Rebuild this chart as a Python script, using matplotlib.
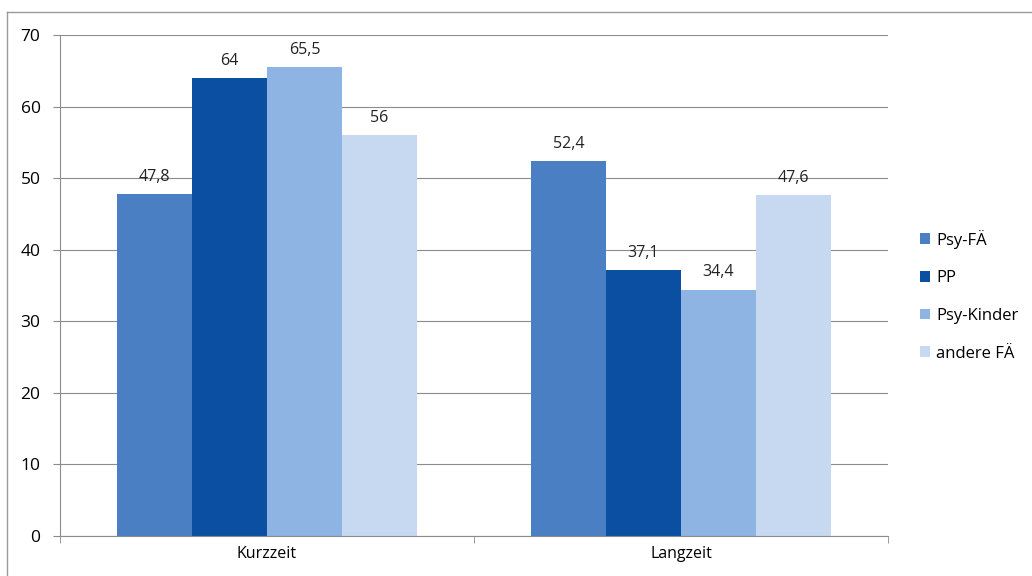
import matplotlib.pyplot as plt
import numpy as np
from matplotlib.lines import Line2D

plt.rcParams['font.family'] = ['Open Sans', 'DejaVu Sans']

# Data
categories = ["Kurzzeit", "Langzeit"]
series = ["Psy-FÄ", "PP", "Psy-Kinder", "andere FÄ"]
values = {
    "Psy-FÄ": [47.8, 52.4],
    "PP": [64, 37.1],
    "Psy-Kinder": [65.5, 34.4],
    "andere FÄ": [56, 47.6],
}
colors = ["#4a7fc4", "#0b4fa2", "#8db4e2", "#c6d9f1"]

fig = plt.figure(figsize=(10.32, 5.76), dpi=100)
ax = fig.add_axes([60 / 1032, 40 / 576, 828 / 1032, 501 / 576])

x = np.arange(len(categories))
width = 0.181
offsets = (np.arange(len(series)) - 1.5) * width

for name, off, col in zip(series, offsets, colors):
    bars = ax.bar(x + off, values[name], width, color=col, label=name, zorder=2)
    for bar, v in zip(bars, values[name]):
        label = f"{v:g}".replace(".", ",")
        ax.text(bar.get_x() + bar.get_width() / 2, v + 1.3, label,
                ha='center', va='bottom', fontsize=11.5, color='#222222', zorder=3)

ax.set_xlim(-0.5, 1.5)
ax.set_ylim(0, 70)
ax.set_yticks(range(0, 71, 10))
ax.yaxis.grid(True, color='#8c8c8c', linewidth=0.8, zorder=0)
ax.set_axisbelow(True)

ax.set_xticks(x)
ax.set_xticklabels(categories, fontsize=11.5)
ax.tick_params(axis='x', length=0, pad=7)
ax.set_xticks([-0.5, 0.5, 1.5], minor=True)
ax.tick_params(axis='x', which='minor', length=5, color='#8c8c8c', direction='out')
ax.tick_params(axis='y', labelsize=12.5, length=5, color='#8c8c8c', pad=9)

for side in ['top', 'right']:
    ax.spines[side].set_visible(False)
ax.spines['left'].set_color('#8c8c8c')
ax.spines['bottom'].set_color('#8c8c8c')

ax.legend(loc='center left', bbox_to_anchor=(1.02, 0.48), frameon=False,
          handlelength=0.6, handleheight=0.6, handletextpad=0.4,
          labelspacing=1.3, fontsize=12)

# outer chart frame
fig.add_artist(Line2D([7 / 1032, 7 / 1032], [0, 1 - 12 / 576],
                      transform=fig.transFigure, color='#9a9a9a', linewidth=1))
fig.add_artist(Line2D([7 / 1032, 1], [1 - 12 / 576, 1 - 12 / 576],
                      transform=fig.transFigure, color='#9a9a9a', linewidth=1))

plt.savefig('out.png', dpi=100)
